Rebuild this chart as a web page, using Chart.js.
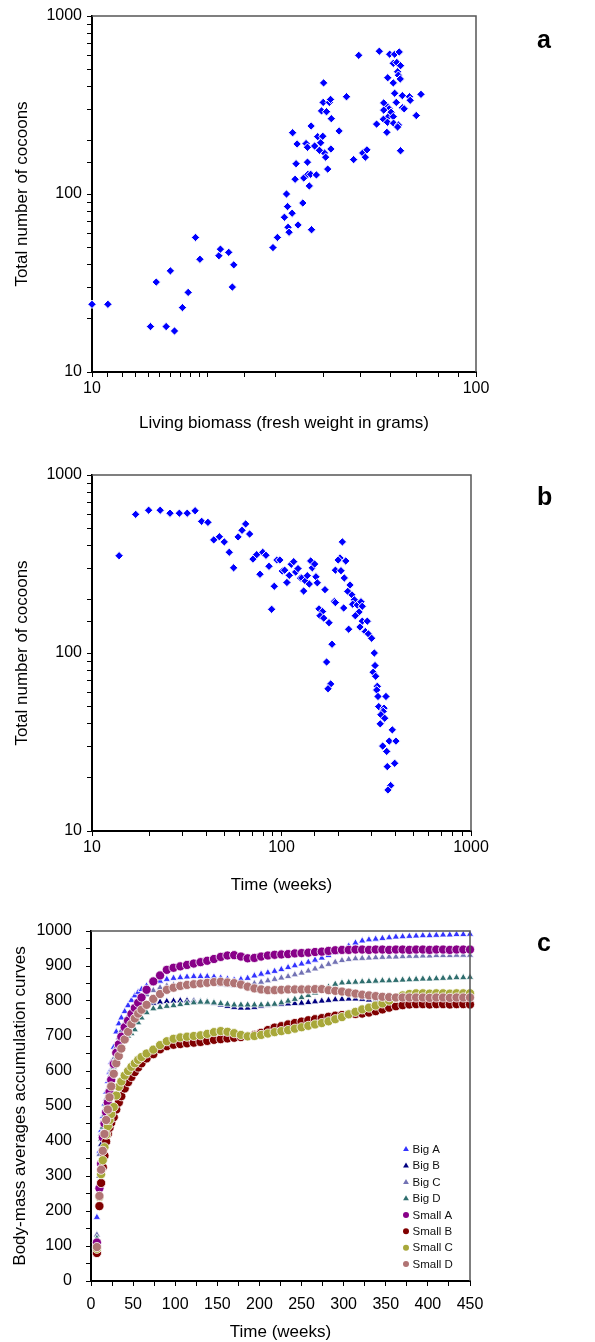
<!DOCTYPE html>
<html>
<head>
<meta charset="utf-8">
<script src="https://cdn.jsdelivr.net/npm/chart.js@4.4.1/dist/chart.umd.min.js"></script>
<style>
  html, body { margin: 0; padding: 0; background: #fff; }
  #page { position: relative; width: 595px; height: 1342px; overflow: hidden; font-family: "Liberation Sans", Arial, sans-serif; }
  #page canvas { position: absolute; left: 0; }
  .tag { position: absolute; left: 537px; font-weight: bold; font-size: 25px; line-height: 25px; }
</style>
</head>
<body>
<div id="page">
  <canvas id="chart-a" width="595" height="440" style="top:0px"></canvas>
  <canvas id="chart-b" width="595" height="460" style="top:440px"></canvas>
  <canvas id="chart-c" width="595" height="444" style="top:900px"></canvas>
  <div class="tag" style="top:27px">a</div>
  <div class="tag" style="top:484px">b</div>
  <div class="tag" style="top:930px">c</div>
</div>
<script>
// panel a: biomass (g) vs cocoons
const biomassX = [10.0, 11.0, 14.2, 14.7, 15.6, 16.0, 16.4, 17.2, 17.8, 18.6, 19.1, 21.4, 21.6, 22.7, 23.2, 23.4,
  29.6, 30.4, 31.7, 32.1, 32.3, 32.4, 32.6, 33.2, 34.4, 35.4, 36.8, 37.3, 33.8, 35.6, 36.5, 37.1, 38.4, 41.1,
  34.0, 36.4, 40.3, 40.6, 39.1, 41.9, 34.2, 36.1, 36.4, 38.0, 39.4, 38.7, 39.9, 33.3, 44.0, 37.2, 42.0, 39.6,
  40.8, 40.0, 41.5, 41.8, 40.1, 46.0, 48.0, 50.7, 52.0, 51.5, 49.5, 56.0, 59.6, 61.4, 63.1, 60.9, 62.2, 63.6,
  62.5, 62.8, 63.5, 58.9, 60.9, 61.4, 64.3, 67.1, 71.9, 67.4, 62.0, 58.1, 57.5, 59.4, 57.5, 60.1, 64.3, 65.0,
  58.9, 60.9, 57.4, 69.9, 55.1, 58.8, 61.0, 62.8, 62.5, 58.6, 63.6];
const cocoonsA = [24, 24, 18, 32, 18, 37, 17, 23, 28, 57, 43, 45, 49, 47, 30, 40,
  50, 57, 74, 100, 85, 65, 61, 78, 67, 89, 111, 63, 121, 123, 129, 129, 128, 138,
  148, 151, 170, 161, 176, 179, 191, 192, 183, 186, 194, 210, 211, 221, 226, 241, 265, 293,
  290, 327, 327, 340, 421, 352, 156, 170, 177, 161, 601, 634, 610, 610, 628, 542, 548, 526,
  486, 465, 443, 450, 421, 368, 357, 352, 363, 336, 327, 319, 325, 301, 296, 288, 305, 301,
  270, 272, 263, 276, 247, 253, 250, 244, 238, 222, 175];

// panel b: time (weeks) vs cocoons
const weeksB = [13.9, 17.0, 19.9, 22.9, 25.8, 28.9, 31.8, 35.0, 37.9, 40.9, 43.9, 47.0, 49.9, 53.0, 55.9, 59.0,
  61.9, 64.7, 67.9, 70.7, 74.0, 77.0, 79.6, 82.8, 85.9, 91.6, 88.7, 94.6, 98.1, 100.9, 103.9, 106.8, 109.9,
  112.6, 116.0, 118.8, 122.2, 125.5, 127.9, 130.9, 133.6, 136.8, 140.2, 142.6, 145.4, 149.6, 152.0, 154.5,
  169.6, 157.7, 164.6, 159.7, 167.1, 178.1, 190.2, 192.5, 184.8, 173.0, 181.8, 176.0, 209.5, 203.5, 199.0,
  218.4, 192.5, 206.0, 214.5, 229.9, 223.6, 235.5, 242.3, 237.5, 251.3, 262.7, 266.8, 256.6, 245.2, 266.8,
  283.6, 259.5, 277.0, 287.4, 299.0, 308.9, 311.6, 226.2, 212.9, 304.6, 314.0, 320.4, 318.0, 323.0, 355.8,
  326.0, 347.5, 344.0, 334.6, 350.4, 331.9, 384.3, 370.4, 401.9, 342.0, 359.0, 395.6, 361.6, 376.7, 364.6];
const cocoonsB = [352, 601, 634, 634, 610, 610, 610, 630, 549, 542, 432, 450, 421, 368, 301, 449,
  489, 531, 466, 337, 357, 277, 368, 354, 307, 237, 176, 333, 333, 289, 292, 249, 273,
  315, 326, 285, 298, 264, 264, 223, 254, 272, 244, 329, 301, 316, 268, 248,
  227, 177, 171, 162, 157, 148, 195, 192, 112, 89, 67, 63, 421, 342, 333,
  329, 292, 290, 264, 241, 222, 212, 199, 188, 186, 194, 183, 170, 162, 151,
  151, 140, 132, 128, 121, 100, 85, 136, 179, 78, 74, 65, 62, 57, 57,
  50, 49, 47, 45, 43, 40, 37, 32, 32, 30, 28, 24, 23, 18, 17];

// panel c: accumulation curves
const weeksC = [7, 10, 12, 14, 16, 18, 20, 22, 24, 27, 30, 33, 36, 40, 44, 48, 52, 56, 60,
  66, 74, 82, 90, 98, 106, 114, 122, 130, 138, 146, 154, 162, 170, 178, 186, 194, 202, 210, 218,
  226, 234, 242, 250, 258, 266, 274, 282, 290, 298, 306, 314, 322, 330, 338, 346, 354, 362, 370, 378,
  386, 394, 402, 410, 418, 426, 434, 442, 450];
const bigA = [182, 370, 430, 470, 505, 540, 570, 597, 625, 668, 712, 735, 752, 770, 787, 802, 815, 825, 833,
  843, 850, 857, 862, 865, 867, 869, 870, 870, 870, 869, 866, 863, 860, 862, 865, 872, 877, 881, 885,
  890, 896, 901, 906, 911, 917, 923, 930, 938, 947, 957, 966, 972, 975, 977, 979, 981, 983, 984, 985,
  986, 987, 987, 988, 989, 989, 990, 990, 991];
const bigB = [115, 300, 390, 440, 462, 495, 530, 560, 590, 625, 655, 680, 700, 722, 740, 755, 767, 776, 782,
  789, 794, 797, 799, 800, 801, 801, 800, 799, 797, 793, 789, 785, 782, 780, 780, 782, 785, 788, 790,
  791, 792, 793, 794, 796, 798, 800, 802, 804, 805, 806, 806, 805, 803, 802, 801, 800, 800, 801, 800,
  800, 801, 800, 800, 801, 800, 800, 801, 800];
const bigC = [132, 362, 420, 455, 490, 520, 548, 575, 600, 635, 668, 695, 715, 738, 757, 772, 786, 797, 807,
  818, 830, 838, 843, 846, 848, 850, 851, 851, 850, 849, 847, 845, 844, 844, 846, 850, 854, 858, 862,
  866, 870, 875, 880, 886, 892, 898, 905, 911, 916, 919, 921, 922, 923, 924, 925, 926, 926, 927, 928,
  928, 929, 929, 930, 930, 930, 931, 931, 931];
const bigD = [122, 282, 405, 440, 475, 505, 532, 557, 580, 610, 638, 658, 674, 690, 700, 707, 718, 738, 752,
  767, 778, 782, 785, 787, 790, 793, 795, 797, 797, 795, 793, 791, 789, 789, 789, 789, 789, 790, 791,
  795, 800, 805, 810, 816, 823, 831, 840, 848, 852, 853, 854, 855, 856, 857, 858, 858, 859, 860, 861,
  862, 863, 863, 864, 865, 866, 867, 867, 868];
const smallA = [110, 265, 335, 410, 450, 482, 510, 540, 575, 620, 652, 676, 698, 725, 744, 763, 780, 795, 810,
  832, 856, 873, 889, 895, 899, 903, 907, 911, 915, 920, 926, 930, 931, 927, 922, 923, 927, 930, 932,
  933, 934, 936, 937, 938, 940, 941, 943, 945, 946, 946, 947, 947, 946, 947, 947, 946, 947, 947, 946,
  947, 947, 946, 947, 947, 946, 947, 947, 947];
const smallB = [80, 214, 280, 325, 358, 398, 420, 438, 452, 468, 490, 510, 528, 550, 568, 583, 597, 610, 622,
  636, 648, 662, 671, 675, 677, 679, 681, 683, 686, 689, 691, 693, 695, 697, 699, 703, 709, 717, 724,
  728, 733, 737, 741, 745, 748, 751, 755, 758, 760, 762, 763, 764, 767, 771, 776, 781, 785, 788, 790,
  791, 791, 790, 791, 791, 790, 791, 791, 790];
const smallC = [92, 240, 305, 345, 382, 418, 442, 460, 477, 497, 530, 555, 570, 587, 600, 612, 622, 632, 640,
  650, 661, 674, 685, 692, 696, 698, 700, 702, 706, 711, 714, 712, 708, 703, 699, 700, 703, 707, 711,
  714, 717, 721, 725, 729, 733, 737, 742, 748, 754, 762, 769, 776, 781, 787, 793, 801, 809, 816, 820,
  822, 822, 821, 822, 822, 821, 822, 822, 822];
const smallD = [97, 243, 318, 372, 420, 460, 490, 525, 556, 592, 622, 643, 664, 690, 712, 734, 750, 764, 775,
  789, 806, 820, 832, 838, 843, 846, 848, 850, 852, 854, 855, 853, 851, 847, 841, 836, 833, 831, 831,
  832, 833, 833, 833, 833, 834, 834, 831, 829, 827, 824, 821, 818, 816, 814, 812, 811, 810, 810, 810,
  810, 810, 809, 810, 810, 809, 810, 810, 810];

const seriesNames = ["Big A", "Big B", "Big C", "Big D", "Small A", "Small B", "Small C", "Small D"];
const seriesValues = [bigA, bigB, bigC, bigD, smallA, smallB, smallC, smallD];
const seriesColors = ["#3333ff", "#000080", "#7272b4", "#2f6e6e", "#880088", "#800000", "#a8a83a", "#b07474"];

Chart.defaults.font.family = '"Liberation Sans", Arial, sans-serif';
Chart.defaults.color = "#000";

// top + right frame lines
const frame = {
  id: "frame",
  afterDraw(chart) {
    const { ctx, chartArea: a } = chart;
    ctx.save();
    ctx.strokeStyle = "#555";
    ctx.lineWidth = 1.5;
    ctx.beginPath();
    ctx.moveTo(a.left, a.top);
    ctx.lineTo(a.right, a.top);
    ctx.lineTo(a.right, a.bottom);
    ctx.stroke();
    ctx.restore();
  },
};

// legend inside the plot of panel c
const insideLegend = {
  id: "insideLegend",
  afterDraw(chart) {
    const { ctx, chartArea } = chart;
    const x = chartArea.right - 64;
    let y = chartArea.bottom - 131.7;
    ctx.save();
    ctx.font = '11.5px "Liberation Sans", Arial, sans-serif';
    ctx.textBaseline = "middle";
    chart.data.datasets.forEach((ds) => {
      ctx.fillStyle = ds.pointBackgroundColor;
      ctx.beginPath();
      if (ds.pointStyle === "triangle") {
        ctx.moveTo(x, y - 3.2);
        ctx.lineTo(x + 2.9, y + 1.8);
        ctx.lineTo(x - 2.9, y + 1.8);
        ctx.closePath();
      } else {
        ctx.arc(x, y, 3, 0, Math.PI * 2);
      }
      ctx.fill();
      ctx.fillStyle = "#111";
      ctx.fillText(ds.label, x + 6.5, y + 0.5);
      y += 16.4;
    });
    ctx.restore();
  },
};

function decadeLabel(v) {
  const l = Math.log10(v);
  return Math.abs(l - Math.round(l)) < 1e-6 ? String(Math.round(v)) : "";
}

function axis(title, extra) {
  return Object.assign(
    {
      border: { display: true, color: "#000", width: 2 },
      grid: { drawOnChartArea: false, drawTicks: true, tickLength: 5, tickColor: "#000", tickWidth: 1 },
      title: { display: true, text: title, color: "#000", font: { size: 17 } },
    },
    extra
  );
}

function logPanel(id, xs, ys, xMax, rightPad, topPad, canvasH, plotBottom, xTitle, xTitlePad) {
  new Chart(document.getElementById(id), {
    type: "scatter",
    data: {
      datasets: [
        {
          data: xs.map((x, i) => ({ x: x, y: ys[i] })),
          pointStyle: "rectRot",
          pointRadius: 4.2,
          pointBackgroundColor: "#0000ff",
          pointBorderColor: "#ffffff",
          pointBorderWidth: 1,
          clip: false,
        },
      ],
    },
    options: {
      responsive: false,
      animation: false,
      layout: { padding: { left: 0, right: rightPad, top: topPad, bottom: 0 } },
      plugins: { legend: { display: false }, tooltip: { enabled: false } },
      scales: {
        x: axis(xTitle, {
          type: "logarithmic",
          min: 10,
          max: xMax,
          ticks: { autoSkip: false, maxRotation: 0, padding: 2.4, font: { size: 16 }, callback: decadeLabel },
          afterFit: (s) => { s.height = canvasH - plotBottom; },
          title: { display: true, text: xTitle, color: "#000", font: { size: 17 }, padding: { top: 0, bottom: xTitlePad } },
        }),
        y: axis("Total number of cocoons", {
          type: "logarithmic",
          min: 10,
          max: 1000,
          ticks: { autoSkip: false, padding: 5, font: { size: 16 }, callback: decadeLabel },
          afterFit: (s) => { s.width = 92; },
          title: { display: true, text: "Total number of cocoons", color: "#000", font: { size: 17 }, padding: { top: 12, bottom: 0 } },
        }),
      },
    },
    plugins: [frame],
  });
}

logPanel("chart-a", biomassX, cocoonsA, 100, 119, 16, 440, 372, "Living biomass (fresh weight in grams)", 6);
logPanel("chart-b", weeksB, cocoonsB, 1000, 124, 35, 460, 391, "Time (weeks)", 4);

// panel c
new Chart(document.getElementById("chart-c"), {
  type: "scatter",
  data: {
    datasets: seriesNames.map((name, i) => ({
      label: name,
      data: weeksC.map((t, k) => ({ x: t, y: seriesValues[i][k] })),
      pointStyle: i < 4 ? "triangle" : "circle",
      pointRadius: i < 4 ? 4.2 : 4.6,
      pointBackgroundColor: seriesColors[i],
      pointBorderColor: "#ffffff",
      pointBorderWidth: 0.8,
      order: 8 - i,
      clip: false,
    })),
  },
  options: {
    responsive: false,
    animation: false,
    layout: { padding: { left: 0, right: 125, top: 31, bottom: 0 } },
    plugins: { legend: { display: false }, tooltip: { enabled: false } },
    scales: {
      x: axis("Time (weeks)", {
        type: "linear",
        min: 0,
        max: 450,
        ticks: { stepSize: 25, autoSkip: false, maxRotation: 0, padding: 9.4, font: { size: 16 },
          callback: (v) => (v % 50 === 0 ? String(v) : "") },
        afterFit: (s) => { s.height = 444 - 381; },
        title: { display: true, text: "Time (weeks)", color: "#000", font: { size: 17 }, padding: { top: 0, bottom: 1 } },
      }),
      y: axis("Body-mass averages accumulation curves", {
        type: "linear",
        min: 0,
        max: 1000,
        ticks: { stepSize: 50, autoSkip: false, padding: 14, font: { size: 16 },
          callback: (v) => (v % 100 === 0 ? String(v) : "") },
        afterFit: (s) => { s.width = 91; },
        title: { display: true, text: "Body-mass averages accumulation curves", color: "#000", font: { size: 17 }, padding: { top: 10, bottom: 0 } },
      }),
    },
  },
  plugins: [frame, insideLegend],
});
</script>
</body>
</html>
